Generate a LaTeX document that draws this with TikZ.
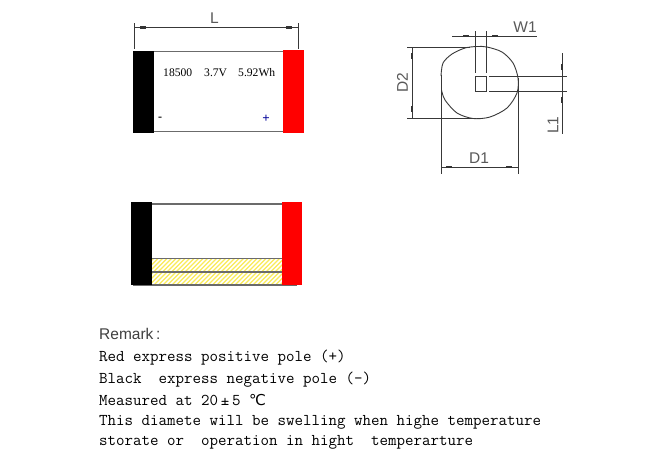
\documentclass[tikz,border=0pt]{standalone}
\usepackage{fontspec}
\setmainfont{Liberation Sans}
\newfontfamily\serifmark{Liberation Serif}
\newfontfamily\symbolmark{DejaVu Sans}
\definecolor{dimgrey}{gray}{0.22}
\definecolor{labelgrey}{gray}{0.35}
\definecolor{bodygrey}{gray}{0.42}
\definecolor{hatchyellow}{rgb}{0.98,0.92,0.35}
\tikzset{
  dimline/.style = {draw = dimgrey, line width = 0.9pt},
  dimmark/.style = {draw = black!80, line width = 2.4pt},
  dimlabel/.style = {text = labelgrey, font = \fontsize{15.5}{15.5}\selectfont, inner sep = 0pt},
  bodyline/.style = {draw = bodygrey, line width = 1.3pt},
  remarkline/.style = {anchor = base west, inner sep = 0pt, text = black, font = \ttfamily\fontsize{16.5}{16.5}\selectfont},
  ratingtext/.style = {anchor = base west, inner sep = 0pt, font = \serifmark\fontsize{11.6}{11.6}\selectfont}
}
\begin{document}
\begin{tikzpicture}[x = 1pt, y = -1pt]
\useasboundingbox (0,0) rectangle (650,451);
\fill[white] (0,0) rectangle (650,451);
% upper cell
\draw[bodyline] (150,51.5) -- (285,51.5);
\draw[bodyline] (150,131.5) -- (285,131.5);
\fill[black] (133,50.5) rectangle (154,133);
\fill[red] (283,49.5) rectangle (304,132.5);
\node[ratingtext] (capacity) at (163,76) {18500};
\node[ratingtext] (voltage) at (204,76) {3.7V};
\node[ratingtext] (energy) at (238,76) {5.92Wh};
\node[inner sep = 0pt, font = \serifmark\bfseries\fontsize{12}{12}\selectfont] (minus) at (160,119) {-};
\node[inner sep = 0pt, text = blue!60!black, font = \serifmark\bfseries\fontsize{13}{13}\selectfont] (plus) at (266,119) {+};
% length dimension
\draw[dimline] (134,23) -- (134,49);
\draw[dimline] (298.5,23) -- (298.5,49);
\draw[dimline] (134,27.5) -- (298.5,27.5);
\foreach \x in {140,286} \draw[dimmark] (\x,27.5) -- (\x+6,27.5);
\node[dimlabel] (lengthlabel) at (214.5,18) {L};
% lower cell
\pgfmathsetmacro\hatchstep{4.5};
\begin{scope}
\clip (152,259) rectangle (282,285);
\foreach \n in {0,...,40} \draw[hatchyellow, line width = 1.1pt] (115+\n*\hatchstep,288) -- (147+\n*\hatchstep,256);
\end{scope}
\draw[bodyline] (150,204) -- (284,204);
\draw[bodyline] (150,258.5) -- (284,258.5);
\draw[bodyline] (150,272) -- (284,272);
\draw[bodyline] (133,285) -- (297,285);
\fill[black] (131,202) rectangle (152,285);
\fill[red] (282,202) rectangle (302,285);
% end view
\draw[dimline, smooth] plot coordinates {(441,76) (443,63) (452,54) (465,48) (477,46.5) (487,47) (502,52) (513,63) (518,78) (517,93) (507,108) (490,117) (473,118.5) (457,113) (445,100) (441.5,90)};
\draw[dimline] (475,76.5) rectangle (486.5,91);
% width dimension
\draw[dimline] (452,36) -- (537,36);
\draw[dimline] (475,31) -- (475,73);
\draw[dimline] (486,31) -- (486,73);
\foreach \x in {463,492} \draw[dimmark] (\x,36) -- (\x+6,36);
\node[dimlabel] (widthlabel) at (525,27) {W1};
% height dimension
\draw[dimline] (407,47) -- (470,47);
\draw[dimline] (407,118.5) -- (472,118.5);
\draw[dimline] (412,47) -- (412,118.5);
\foreach \y in {53,106} \draw[dimmark] (412,\y) -- (412,\y+6);
\node[dimlabel, rotate = 90] (heightlabel) at (402.5,83) {D2};
% terminal dimension
\draw[dimline] (489,76.5) -- (567,76.5);
\draw[dimline] (489,91) -- (567,91);
\draw[dimline] (562,53) -- (562,134);
\foreach \y in {64,97} \draw[dimmark] (562,\y) -- (562,\y+6);
\node[dimlabel, rotate = 90] (terminallabel) at (553,125) {L1};
% diameter dimension
\draw[dimline] (441,75) -- (441,174);
\draw[dimline] (518,78) -- (518,174);
\draw[dimline] (441,167) -- (518,167);
\foreach \x in {446,506} \draw[dimmark] (\x,167) -- (\x+6,167);
\node[dimlabel] (diameterlabel) at (479,158) {D1};
% remark text
\node[anchor = base west, inner sep = 0pt, text = black!75, font = \fontsize{15.5}{15.5}\selectfont] (remarktitle) at (99,339) {Remark\,:};
\node[remarkline] (remarkred) at (99,361) {Red express positive pole (+)};
\node[remarkline] (remarkblack) at (99,383) {Black\ \ express negative pole (-)};
\node[remarkline] (remarktemp) at (99,405) {Measured at 20\,±\,5\ {\symbolmark\fontsize{15}{15}\selectfont ℃}};
\node[remarkline] (remarkswell) at (99,425) {This diamete will be swelling when highe temperature};
\node[remarkline] (remarkstore) at (99,445) {storate or\ \ operation in hight\ \ temperarture};
\end{tikzpicture}
\end{document}
